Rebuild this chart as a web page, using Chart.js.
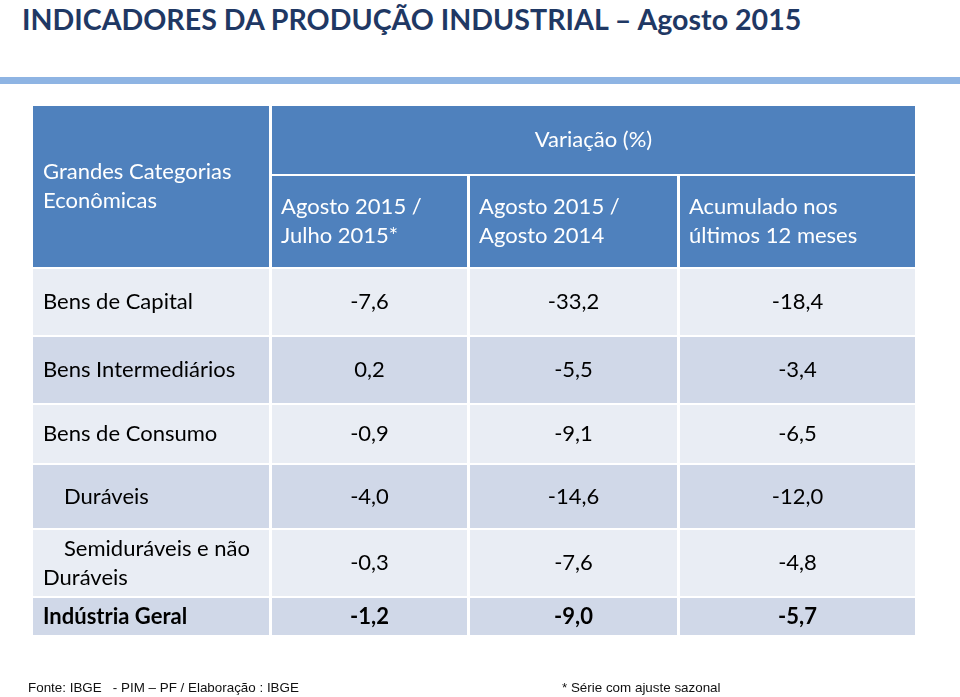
<!DOCTYPE html>
<html>
<head>
<meta charset="utf-8">
<script src="https://cdn.jsdelivr.net/npm/chart.js@4/dist/chart.umd.min.js"></script>
<style>
  html, body { margin: 0; padding: 0; background: #fff; }
  #wrap { position: relative; width: 960px; height: 697px; overflow: hidden; }
  #title { position: absolute; left: 22px; top: 2px; font: bold 28.6px Lato, sans-serif; color: #1F3864; white-space: nowrap; }
  #band { position: absolute; left: 0; top: 77px; width: 960px; height: 7px; background: #8EB4E3; }
  .foot { position: absolute; top: 680px; font: 13.4px "Liberation Sans", Arial, sans-serif; color: #111; white-space: pre; }
  canvas { position: absolute; left: 0; top: 0; }
</style>
</head>
<body>
<div id="wrap">
  <div id="title">INDICADORES DA PRODUÇÃO INDUSTRIAL – Agosto 2015</div>
  <div id="band"></div>
  <canvas id="tabela" width="960" height="697"></canvas>
  <div class="foot" style="left:28px">Fonte: IBGE   - PIM – PF / Elaboração : IBGE</div>
  <div class="foot" style="left:562px">* Série com ajuste sazonal</div>
</div>
<script>
// dados
const categorias = ['Bens de Capital', 'Bens Intermediários', 'Bens de Consumo', 'Duráveis', 'Semiduráveis e não Duráveis', 'Indústria Geral'];
const recuo = [0, 0, 0, 1, 1, 0];
const mesAnterior = [-7.6, 0.2, -0.9, -4.0, -0.3, -1.2];
const mesmoMesAnoAnterior = [-33.2, -5.5, -9.1, -14.6, -7.6, -9.0];
const acumulado12 = [-18.4, -3.4, -6.5, -12.0, -4.8, -5.7];
const cabecalhoCategorias = ['Grandes Categorias', 'Econômicas'];
const cabecalhoGrupo = 'Variação (%)';
const cabecalhoColunas = [
  ['Agosto 2015 /', 'Julho 2015*'],
  ['Agosto 2015 /', 'Agosto 2014'],
  ['Acumulado nos', 'últimos 12 meses']
];

// layout (unidades das escalas = px da tabela)
const colWidths = [236, 195, 207, 235];
const rowHeights = [68, 91, 66, 66, 58, 63, 66, 37];
const GAP_X = 3, GAP_Y = 2;
const colStart = [], rowStart = [];
colWidths.reduce((acc, w) => { colStart.push(acc); return acc + w + GAP_X; }, 0);
rowHeights.reduce((acc, h) => { rowStart.push(acc); return acc + h + GAP_Y; }, 0);
const colEnd = colStart.map((s, i) => s + colWidths[i]);
const rowEnd = rowStart.map((s, i) => s + rowHeights[i]);
const totalW = colEnd[colEnd.length - 1];
const totalH = rowEnd[rowEnd.length - 1];
const colMid = i => (colStart[i] + colEnd[i]) / 2;
const rowMid = i => (rowStart[i] + rowEnd[i]) / 2;

const AZUL = '#4F81BD', CLARO = '#E9EDF4', ESCURO = '#D0D8E8';
const FONTE = 'Lato, sans-serif';
const TAM = '22px ';
const LINE_H = 29;

const fmt = v => v.toFixed(1).replace('.', ',');
const serie = (arr, col) => arr.map((v, i) => ({ x: colMid(col), y: rowMid(i + 2), v }));

const tabelaPlugin = {
  id: 'tabela',
  beforeDatasetsDraw(chart) {
    const { ctx, scales: { x, y } } = chart;
    const box = (c0, c1, r0, r1, color) => {
      const px0 = x.getPixelForValue(c0), px1 = x.getPixelForValue(c1);
      const py0 = y.getPixelForValue(r0), py1 = y.getPixelForValue(r1);
      ctx.fillStyle = color;
      ctx.fillRect(px0, py0, px1 - px0, py1 - py0);
    };
    const lines = (arr, px, cy, align) => {
      ctx.textAlign = align;
      ctx.textBaseline = 'middle';
      const top = cy - (arr.length - 1) * LINE_H / 2;
      arr.forEach((t, k) => ctx.fillText(t, px, top + k * LINE_H));
    };
    ctx.save();
    // cabeçalho
    box(colStart[0], colEnd[0], rowStart[0], rowEnd[1], AZUL);
    box(colStart[1], colEnd[3], rowStart[0], rowEnd[0], AZUL);
    for (let c = 1; c < 4; c++) box(colStart[c], colEnd[c], rowStart[1], rowEnd[1], AZUL);
    ctx.fillStyle = '#fff';
    ctx.font = TAM + FONTE;
    lines(cabecalhoCategorias, x.getPixelForValue(colStart[0] + 10), y.getPixelForValue((rowStart[0] + rowEnd[1]) / 2), 'left');
    lines([cabecalhoGrupo], x.getPixelForValue((colStart[1] + colEnd[3]) / 2), y.getPixelForValue(rowMid(0)), 'center');
    cabecalhoColunas.forEach((h, c) => {
      lines(h, x.getPixelForValue(colStart[c + 1] + 9), y.getPixelForValue(rowMid(1)), 'left');
    });
    // linhas de dados
    categorias.forEach((cat, i) => {
      const r = i + 2;
      const cor = i % 2 === 0 ? CLARO : ESCURO;
      for (let c = 0; c < 4; c++) box(colStart[c], colEnd[c], rowStart[r], rowEnd[r], cor);
      const bold = i === categorias.length - 1;
      ctx.font = (bold ? 'bold ' : '') + TAM + FONTE;
      ctx.fillStyle = '#000';
      const indent = recuo[i] ? 21 : 0;
      const maxW = colWidths[0] - 20;
      // quebra simples com recuo só na primeira linha
      const words = cat.split(' ');
      const out = [];
      let cur = '';
      words.forEach(w => {
        const test = cur ? cur + ' ' + w : w;
        const avail = maxW - (out.length === 0 ? indent : 0);
        if (cur && ctx.measureText(test).width > avail) { out.push(cur); cur = w; } else cur = test;
      });
      out.push(cur);
      const cy = y.getPixelForValue(rowMid(r));
      const top = cy - (out.length - 1) * LINE_H / 2;
      ctx.textAlign = 'left';
      ctx.textBaseline = 'middle';
      out.forEach((t, k) => {
        ctx.fillText(t, x.getPixelForValue(colStart[0] + 10 + (k === 0 ? indent : 0)), top + k * LINE_H);
      });
    });
    ctx.restore();
  },
  afterDatasetsDraw(chart) {
    const { ctx } = chart;
    ctx.save();
    ctx.fillStyle = '#000';
    ctx.textAlign = 'center';
    ctx.textBaseline = 'middle';
    chart.data.datasets.forEach((ds, d) => {
      const meta = chart.getDatasetMeta(d);
      meta.data.forEach((pt, i) => {
        const bold = i === categorias.length - 1;
        ctx.font = (bold ? 'bold ' : '') + TAM + FONTE;
        ctx.fillText(fmt(ds.data[i].v), pt.x, pt.y);
      });
    });
    ctx.restore();
  }
};

new Chart(document.getElementById('tabela'), {
  type: 'scatter',
  data: {
    datasets: [
      { label: 'Agosto 2015 / Julho 2015*', data: serie(mesAnterior, 1) },
      { label: 'Agosto 2015 / Agosto 2014', data: serie(mesmoMesAnoAnterior, 2) },
      { label: 'Acumulado nos últimos 12 meses', data: serie(acumulado12, 3) }
    ]
  },
  options: {
    responsive: false,
    devicePixelRatio: 1,
    animation: false,
    layout: { padding: { left: 33, right: 960 - 33 - totalW, top: 106, bottom: 697 - 106 - totalH } },
    elements: { point: { radius: 0, hoverRadius: 0 } },
    plugins: { legend: { display: false }, tooltip: { enabled: false } },
    scales: {
      x: { type: 'linear', display: false, min: 0, max: totalW },
      y: { type: 'linear', display: false, min: 0, max: totalH, reverse: true }
    }
  },
  plugins: [tabelaPlugin]
});
</script>
</body>
</html>
